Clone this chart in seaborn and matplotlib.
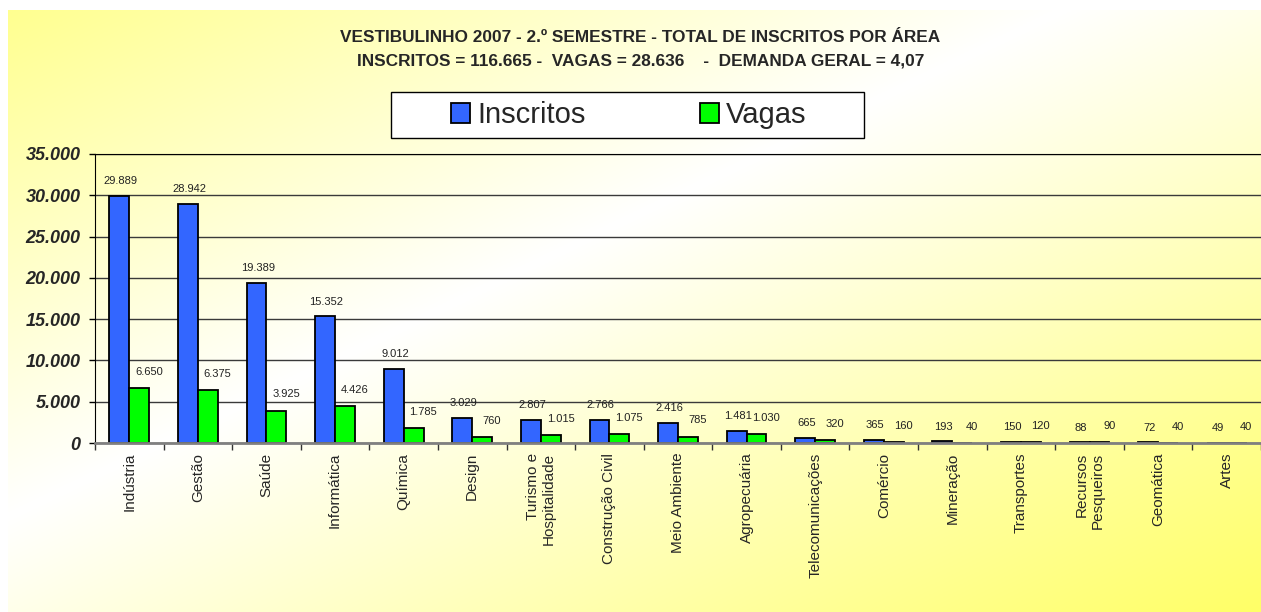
import matplotlib
matplotlib.use("Agg")
import matplotlib.pyplot as plt
import seaborn as sns
import pandas as pd
import numpy as np
from matplotlib.ticker import FuncFormatter, FixedLocator
from matplotlib.patches import Patch, Rectangle, Shadow

# dados do gráfico
areas = ['Indústria', 'Gestão', 'Saúde', 'Informática', 'Química', 'Design',
         'Turismo e\nHospitalidade', 'Construção Civil', 'Meio Ambiente',
         'Agropecuária', 'Telecomunicações', 'Comércio', 'Mineração',
         'Transportes', 'Recursos\nPesqueiros', 'Geomática', 'Artes']
inscritos = [29889, 28942, 19389, 15352, 9012, 3029, 2807, 2766, 2416,
             1481, 665, 365, 193, 150, 88, 72, 49]
vagas = [6650, 6375, 3925, 4426, 1785, 760, 1015, 1075, 785,
         1030, 320, 160, 40, 120, 90, 40, 40]

df = pd.DataFrame({'area': areas * 2,
                   'valor': inscritos + vagas,
                   'serie': ['Inscritos'] * len(areas) + ['Vagas'] * len(areas)})

sns.set_style('white')
plt.rcParams['font.family'] = ['Liberation Sans', 'DejaVu Sans']

def pt_br(v, pos=None):
    return f'{int(round(v)):,}'.replace(',', '.')

fig = plt.figure(figsize=(12.61, 6.12), dpi=100)

# fundo em degradê amarelo
bg = fig.add_axes([8 / 1261, 0, 1 - 8 / 1261, 1 - 10 / 612], zorder=-10)
h, w = 300, 600
yy, xx = np.mgrid[0:h, 0:w]
t = (xx / w + yy / h) / 2
s = np.clip(np.abs(t - 0.42) / 0.58, 0, 1) ** 1.0
img = np.ones((h, w, 3))
img[..., 2] = 1.0 - 0.6 * s
bg.imshow(img, aspect='auto', extent=[0, 1, 0, 1])
bg.axis('off')

ax = fig.add_axes([95 / 1261, 1 - 443 / 612, 1 - 95 / 1261, (443 - 154) / 612])
ax.set_facecolor('none')

sns.barplot(data=df, x='area', y='valor', hue='serie',
            palette={'Inscritos': '#3366FF', 'Vagas': '#00FF00'},
            width=0.58, gap=0, edgecolor='black', linewidth=1.3,
            saturation=1, ax=ax, legend=False, errorbar=None)

# rótulos de valor acima das barras
for cont, dx, dy in zip(ax.containers, [1, 7], [7, 8]):
    labels = ax.bar_label(cont, labels=[pt_br(b.get_height()) for b in cont],
                          fontsize=8, color='#222222')
    for lb in labels:
        lb.xyann = (dx, dy)

ax.set_ylim(0, 35000)
ax.set_xlim(-0.5, len(areas) - 0.5)
ax.set_yticks(range(0, 35001, 5000))
ax.yaxis.set_major_formatter(FuncFormatter(pt_br))
for lbl in ax.get_yticklabels():
    lbl.set_fontweight('bold')
    lbl.set_fontstyle('italic')
    lbl.set_fontsize(13)
ax.grid(axis='y', color='#3a3a3a', linewidth=1)
ax.set_axisbelow(True)

ax.set_xlabel('')
ax.set_ylabel('')
ax.set_xticks(range(len(areas)))
ax.set_xticklabels(areas, rotation=90, fontsize=11, va='top', ha='center',
                   multialignment='right')
ax.tick_params(axis='x', which='major', length=0, pad=7)
ax.xaxis.set_minor_locator(FixedLocator(np.arange(-0.5, len(areas), 1)))
ax.tick_params(axis='x', which='minor', length=5, width=1, color='#333333',
               direction='out', bottom=True)
ax.tick_params(axis='y', length=4.3, width=1, color='black', direction='out',
               left=True, pad=6)

ax.spines['right'].set_visible(False)
ax.spines['top'].set_color('black')
ax.spines['left'].set_color('black')
ax.spines['bottom'].set_color('#808080')
ax.spines['bottom'].set_linewidth(2)

fig.text(0.508, 1 - 37.5 / 612,
         'VESTIBULINHO 2007 - 2.º SEMESTRE - TOTAL DE INSCRITOS POR ÁREA',
         ha='center', va='center', fontsize=12.4, fontweight='bold')
fig.text(0.508, 1 - 61 / 612,
         'INSCRITOS = 116.665 -  VAGAS = 28.636    -  DEMANDA GERAL = 4,07',
         ha='center', va='center', fontsize=12.4, fontweight='bold')

# caixa da legenda com sombra
caixa = Rectangle((391 / 1261, 1 - 138 / 612), (864 - 391) / 1261, 46 / 612,
                  transform=fig.transFigure, facecolor='white',
                  edgecolor='black', linewidth=1, zorder=3)
sombra = Shadow(caixa, 2.5, -2.5)
sombra.set_zorder(2)
fig.add_artist(sombra)
fig.add_artist(caixa)

handles = [Patch(facecolor='#3366FF', edgecolor='black', linewidth=1.3),
           Patch(facecolor='#00FF00', edgecolor='black', linewidth=1.3)]
leg = fig.legend(handles, ['Inscritos', 'Vagas'], ncol=2, loc='center',
                 bbox_to_anchor=(629 / 1261, 1 - 115 / 612), fontsize=21,
                 frameon=False, handlelength=0.65, handleheight=0.7,
                 handletextpad=0.25, columnspacing=3.9, borderpad=0.3,
                 borderaxespad=0)
leg.set_zorder(5)

fig.savefig('out.png', dpi=100)
